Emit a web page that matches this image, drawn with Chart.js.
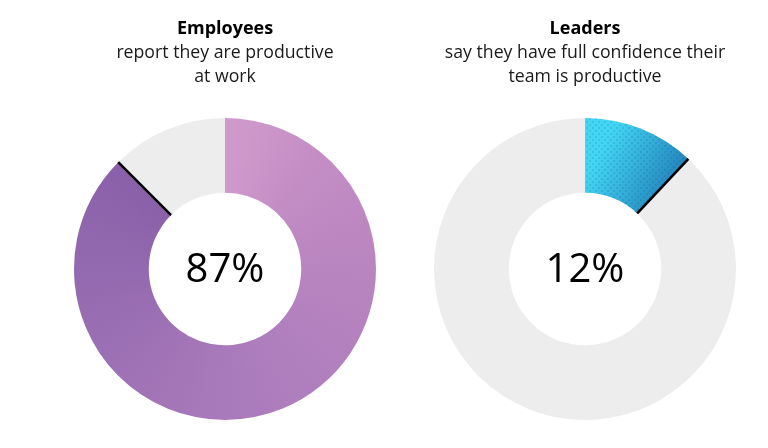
<!DOCTYPE html>
<html><head><meta charset="utf-8">
<script src="https://cdn.jsdelivr.net/npm/chart.js@4"></script>
<style>
html,body{margin:0;padding:0;background:#fff;width:768px;height:448px;overflow:hidden}
canvas{position:absolute;top:0}
#c1{left:45px}#c2{left:405px}
</style></head><body>
<canvas id="c1" width="360" height="448" style="width:360px;height:448px"></canvas>
<canvas id="c2" width="360" height="448" style="width:360px;height:448px"></canvas>
<script>
const categories = ['Yes', 'Other'];
const employeesValues = [87.5, 12.5];
const leadersValues = [12, 88];
const employeesTitle = 'Employees';
const employeesSubtitle = ['report they are productive', 'at work'];
const leadersTitle = 'Leaders';
const leadersSubtitle = ['say they have full confidence their', 'team is productive'];
const employeesCenter = '87%';
const leadersCenter = '12%';
const restColor = '#ededed';
const FONT = '"Open Sans", "Noto Sans", sans-serif';

function employeesFill(ctx) {
  const a = ctx.chart.chartArea;
  if (!a) return '#b080bd';
  const g = ctx.chart.ctx.createConicGradient(-Math.PI / 2, (a.left + a.right) / 2, (a.top + a.bottom) / 2);
  g.addColorStop(0, '#d09bcb');
  g.addColorStop(0.125, '#c28cc4');
  g.addColorStop(0.25, '#b985c0');
  g.addColorStop(0.5, '#a97abb');
  g.addColorStop(0.75, '#9369af');
  g.addColorStop(0.875, '#8a60a9');
  g.addColorStop(1, '#8a60a9');
  return g;
}
function leadersFill(ctx) {
  const a = ctx.chart.chartArea;
  if (!a) return '#2fa0d0';
  const cx = (a.left + a.right) / 2, cy = (a.top + a.bottom) / 2, r = (a.bottom - a.top) / 2;
  const g = ctx.chart.ctx.createLinearGradient(cx, cy - r * 0.6, cx + r * 0.55, cy - r * 0.3);
  g.addColorStop(0, '#43d6f4');
  g.addColorStop(1, '#1f78b2');
  return g;
}
function dotPattern() {
  const p = document.createElement('canvas');
  p.width = 6; p.height = 6;
  const c = p.getContext('2d');
  c.fillStyle = 'rgba(0,50,120,0.12)';
  c.fillRect(1, 1, 2, 2);
  c.fillRect(4, 4, 2, 2);
  return p;
}
const ringPlugin = {
  id: 'ring',
  afterDatasetsDraw(chart, args, opts) {
    const c = chart.ctx;
    const arc = chart.getDatasetMeta(0).data[0];
    const { x, y, startAngle, endAngle, innerRadius, outerRadius } = arc.getProps(['x', 'y', 'startAngle', 'endAngle', 'innerRadius', 'outerRadius'], true);
    c.save();
    if (opts.dots) {
      c.beginPath();
      c.arc(x, y, outerRadius, startAngle, endAngle);
      c.arc(x, y, innerRadius, endAngle, startAngle, true);
      c.closePath();
      c.fillStyle = c.createPattern(dotPattern(), 'repeat');
      c.fill();
    }
    c.beginPath();
    c.moveTo(x + Math.cos(endAngle) * innerRadius, y + Math.sin(endAngle) * innerRadius);
    c.lineTo(x + Math.cos(endAngle) * outerRadius, y + Math.sin(endAngle) * outerRadius);
    c.strokeStyle = '#000';
    c.lineWidth = 2.5;
    c.stroke();
    c.fillStyle = '#000';
    c.font = '400 40px ' + FONT;
    c.textAlign = 'center';
    c.textBaseline = 'middle';
    c.fillText(opts.text, x, y + 2);
    c.restore();
  }
};
function build(id, values, fill, title, subtitle, center, dots) {
  new Chart(document.getElementById(id), {
    type: 'doughnut',
    data: { labels: categories, datasets: [{ data: values, backgroundColor: (ctx) => ctx.dataIndex === 0 ? fill(ctx) : restColor, borderWidth: 0, hoverOffset: 0 }] },
    options: {
      responsive: false, animation: false, devicePixelRatio: 1, cutout: '50.5%',
      layout: { padding: { bottom: 28 } },
      plugins: {
        legend: { display: false }, tooltip: { enabled: false },
        title: { display: true, text: title, color: '#000', font: { family: FONT, size: 18, weight: '700', lineHeight: '24px' }, padding: { top: 17, bottom: 0 } },
        subtitle: { display: true, text: subtitle, color: '#1a1a1a', font: { family: FONT, size: 17.7, weight: '400', lineHeight: '24px' }, padding: { top: 0, bottom: 29 } },
        ring: { text: center, dots }
      }
    },
    plugins: [ringPlugin]
  });
}
build('c1', employeesValues, employeesFill, employeesTitle, employeesSubtitle, employeesCenter, false);
build('c2', leadersValues, leadersFill, leadersTitle, leadersSubtitle, leadersCenter, true);
</script></body></html>
